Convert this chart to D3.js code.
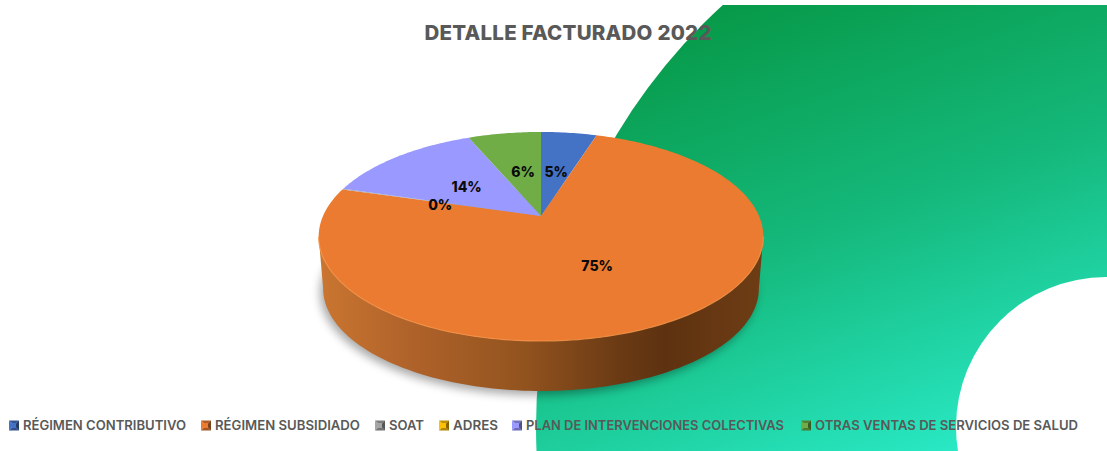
<!DOCTYPE html>
<html>
<head>
<meta charset="utf-8">
<script src="https://cdn.jsdelivr.net/npm/d3@7"></script>
<style>
html,body{margin:0;padding:0;background:#fff;overflow:hidden}
svg{display:block}
text{font-family:"Inter","Open Sans",sans-serif}
</style>
</head>
<body>
<svg id="c" width="1107" height="451"></svg>
<script>
const chartTitle = "DETALLE FACTURADO 2022";
const categories = ["RÉGIMEN CONTRIBUTIVO","RÉGIMEN SUBSIDIADO","SOAT","ADRES","PLAN DE INTERVENCIONES COLECTIVAS","OTRAS VENTAS DE SERVICIOS DE SALUD"];
const values = [4.9, 74.6, 0.1, 0, 14.0, 6.4];
const labels = ["5%","75%","0%",null,"14%","6%"];
const colors = ["#4472c4","#ea7b30","#a5a5a5","#ffc000","#9999ff","#70ad47"];

const svg = d3.select("#c");
const W = 1107, H = 451;
const defs = svg.append("defs");

// background gradient and ring
const bg = defs.append("linearGradient").attr("id","bg").attr("gradientUnits","userSpaceOnUse")
  .attr("gradientTransform","translate(-1106,-427)")
  .attr("x1",705).attr("y1",0).attr("x2",880).attr("y2",493);
bg.append("stop").attr("offset",0).attr("stop-color","#069846");
bg.append("stop").attr("offset",0.5).attr("stop-color","#15b97c");
bg.append("stop").attr("offset",1).attr("stop-color","#2aebc8");
defs.append("clipPath").attr("id","band").append("rect").attr("x",0).attr("y",5).attr("width",W).attr("height",H-5);
svg.append("g").attr("clip-path","url(#band)").append("path")
  .attr("fill","url(#bg)")
  .attr("d", d3.arc()({innerRadius:150,outerRadius:570,startAngle:0,endAngle:2*Math.PI}))
  .attr("transform","translate(1106,427)");

// title
svg.append("text").attr("id","title").attr("x",568).attr("y",39.5).attr("text-anchor","middle")
  .attr("font-size",20.5).attr("font-weight",800).attr("fill","#595959")
  .attr("textLength",287).attr("lengthAdjust","spacing").text(chartTitle);

// perspective projection of the pie disc
const apex = {x:541, y:216}, R = 218, Hz = 100.5, k = 0.196;
function project(angle, f, depth){
  const u = Math.sin(angle)*f, v = -Math.cos(angle)*f, w = 1 - k*v;
  const s = depth ? 0.98 : 1, dy = depth ? 52.5 : 0;
  return [apex.x + s*R*u/w, apex.y + dy + s*Hz*v/w];
}
const pie = d3.pie().value(d=>d).sort(null).startAngle(0).endAngle(2*Math.PI);
const arcs = pie(values);
const line = d3.line();

// wall
const wallGrad = defs.append("linearGradient").attr("id","wall").attr("gradientUnits","userSpaceOnUse")
  .attr("x1",318).attr("y1",0).attr("x2",763).attr("y2",0);
[[0,"#cb7631"],[0.2,"#b0632a"],[0.45,"#94541f"],[0.68,"#6a3a14"],[0.78,"#5e3210"],[1,"#6e3d15"]]
  .forEach(s=>wallGrad.append("stop").attr("offset",s[0]).attr("stop-color",s[1]));
const blur = defs.append("filter").attr("id","soft").attr("x","-10%").attr("y","-10%").attr("width","120%").attr("height","125%");
blur.append("feGaussianBlur").attr("stdDeviation",5);

const t0 = Math.PI/2 + Math.asin(k), t1 = 3*Math.PI/2 - Math.asin(k);
const front = d3.range(0,121).map(i=>t0 + (t1-t0)*i/120);
const wallPts = front.map(a=>project(a,1,false)).concat(front.slice().reverse().map(a=>project(a,1,true)));
const shadowPts = d3.range(0,181).map(i=>project(i/180*2*Math.PI,1,true));
svg.append("path").attr("d",line(shadowPts)+"Z").attr("fill","#000").attr("opacity",0.34)
  .attr("filter","url(#soft)").attr("transform","translate(-3,4)");
svg.append("path").attr("d",line(wallPts)+"Z").attr("fill","url(#wall)");

// top face
arcs.forEach((a,i)=>{
  if(a.endAngle-a.startAngle<=0) return;
  const n = Math.max(2,Math.ceil((a.endAngle-a.startAngle)*60));
  const pts = [[apex.x,apex.y]].concat(d3.range(0,n+1).map(j=>project(a.startAngle+(a.endAngle-a.startAngle)*j/n,1,false)));
  svg.append("path").attr("d",line(pts)+"Z").attr("fill",colors[i]);
});
// rim highlight
svg.append("path").attr("d",line(front.map(a=>project(a,1,false))))
  .attr("fill","none").attr("stroke","#f79247").attr("stroke-width",1.2).attr("opacity",0.85);

// data labels
const nudge = {0:[0,1],1:[0,1],2:[1,3],4:[2,2],5:[2,1]};
arcs.forEach((a,i)=>{
  if(labels[i]===null) return;
  const p = project((a.startAngle+a.endAngle)/2,0.5,false), n = nudge[i]||[0,0];
  svg.append("text").attr("x",p[0]+n[0]).attr("y",p[1]+n[1]+5)
    .attr("text-anchor","middle").attr("font-size",14).attr("font-weight",800).attr("fill","#0a0a0a").text(labels[i]);
});

// legend
const legendLeft = [9,201,375,439,512,801];
const legendWidth = [163,145,35,45,258,263];
categories.forEach((c,i)=>{
  const x = legendLeft[i], y = 420.5, s = 10;
  const col = d3.color(colors[i]);
  const g = svg.append("g");
  const tri = (pts,f)=>g.append("path").attr("d",line(pts)+"Z").attr("fill",f);
  const cx = x+s/2, cy = y+s/2;
  tri([[x,y],[x+s,y],[cx,cy]], col.darker(0.8));
  tri([[x,y+s],[x+s,y+s],[cx,cy]], col.darker(1));
  tri([[x,y],[x,y+s],[cx,cy]], col);
  tri([[x+s,y],[x+s,y+s],[cx,cy]], col.darker(1.8));
  g.append("rect").attr("x",x+3).attr("y",y+2.5).attr("width",4).attr("height",5).attr("fill",col);
  svg.append("text").attr("x",x+s+4).attr("y",430).attr("font-size",13).attr("font-weight",600).attr("fill","#595959")
    .attr("textLength",legendWidth[i]).attr("lengthAdjust","spacingAndGlyphs").text(c);
});
</script>
</body>
</html>
